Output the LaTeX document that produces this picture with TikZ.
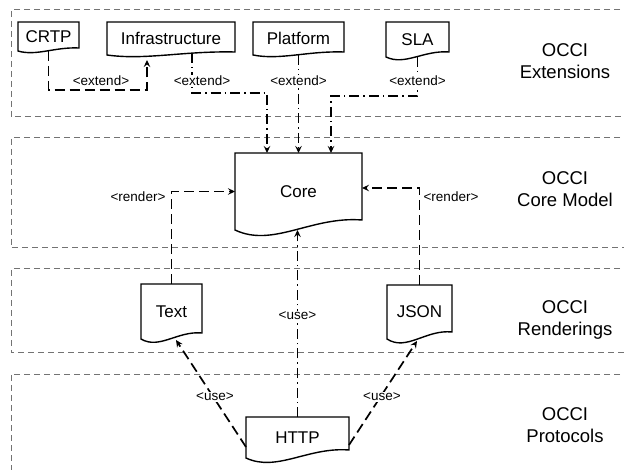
\documentclass[tikz,border=0pt]{standalone}
\usepackage{fontspec}
\setmainfont{Liberation Sans}
\usetikzlibrary{arrows.meta,calc}
\tikzset{
  layer/.style={draw=black!55, line width=1pt, dash pattern=on 6pt off 4pt},
  docnode/.style={draw=none, inner sep=0pt, outer sep=0pt, anchor=north west, font=\fontsize{17}{20}\selectfont},
  docline/.style={draw=black, line width=1.4pt, line join=miter},
  conn/.style={line width=1.7pt, dash pattern=on 10pt off 5pt, -{Stealth[length=7pt,width=6.5pt,inset=2.5pt]}},
  conndot/.style={conn, dash pattern=on 10pt off 4pt on 1.5pt off 4pt},
  lbl/.style={fill=white, inner sep=1pt, font=\fontsize{13.5}{15}\selectfont},
  layertitle/.style={align=center, font=\fontsize{18.5}{22}\selectfont},
}
\newcommand{\docoutline}[2]{%
  \draw[docline] (#1.south west) -- (#1.north west) -- (#1.north east) -- ($(#1.south east)+(0,#2)$)
   .. controls ($(#1.south west)!0.6!(#1.south east)+(0,1.4*#2)$) and ($(#1.south west)!0.3!(#1.south east)+(0,-1.8*#2)$) .. (#1.south west) -- cycle;}
\begin{document}
\begin{tikzpicture}[x=1pt,y=1pt]
\useasboundingbox (0,0) rectangle (624,-470);
% layers
\draw[layer] (640,-10) -- (11,-10) -- (11,-117) -- (640,-117);
\draw[layer] (640,-138) -- (11,-138) -- (11,-248) -- (640,-248);
\draw[layer] (640,-269) -- (11,-269) -- (11,-353) -- (640,-353);
\draw[layer] (640,-374) -- (11,-374) -- (11,-480);
% documents
\node[docnode, minimum width=61pt, minimum height=29pt] (crtp) at (18,-22) {CRTP};
\node[docnode, minimum width=128pt, minimum height=33pt] (infra) at (107,-22) {Infrastructure};
\node[docnode, minimum width=91pt, minimum height=33pt] (platform) at (253,-22) {Platform};
\node[docnode, minimum width=63pt, minimum height=35pt] (sla) at (386,-22) {SLA};
\node[docnode, minimum width=127pt, minimum height=77pt] (core) at (235,-153) {Core};
\node[docnode, minimum width=61pt, minimum height=55pt] (text) at (141,-284) {Text};
\node[docnode, minimum width=65pt, minimum height=54pt] (json) at (387,-285) {JSON};
\node[docnode, minimum width=103pt, minimum height=41pt] (http) at (246,-417) {HTTP};
\docoutline{crtp}{3}
\docoutline{infra}{3}
\docoutline{platform}{3}
\docoutline{sla}{5}
\docoutline{core}{10}
\docoutline{text}{6}
\docoutline{json}{7}
\docoutline{http}{8}
% connectors
\draw[conn] (crtp.south) -- ++(0,-39) -| ($(infra.south west)+(40,-5)$);
\draw[conndot] ($(infra.south west)+(85,2)$) -- ++(0,-40) -| ($(core.north west)+(32,0)$);
\draw[conndot] (platform.south) -- (platform.south |- core.north);
\draw[conndot] (sla.south) -- ++(0,-39) -| ($(core.north east)+(-31,0)$);
\draw[conn] (text.north) |- (core.west);
\draw[conn] (json.north) |- ($(core.east)+(0,3.5)$);
\draw[conndot] (http.north) -- (http.north |- core.south);
\draw[conn] ($(http.south west)+(0,11)$) -- ($(text.south)+(4.5,-1)$);
\draw[conn] ($(http.south east)+(0,13)$) -- ($(json.south)+(-2.5,-2)$);
% labels
\node[lbl] (l1) at (101,-81) {<extend>};
\node[lbl] (l2) at (202,-81) {<extend>};
\node[lbl] (l3) at (298.5,-81) {<extend>};
\node[lbl] (l4) at (417.5,-81) {<extend>};
\node[lbl] (l5) at (138,-197) {<render>};
\node[lbl] (l6) at (451,-197) {<render>};
\node[lbl] (l7) at (297.5,-316) {<use>};
\node[lbl] (l8) at (215,-397) {<use>};
\node[lbl] (l9) at (382,-397) {<use>};
% layer titles
\node[layertitle] (t1) at (565,-61) {OCCI\\Extensions};
\node[layertitle] (t2) at (565,-189.5) {OCCI\\Core Model};
\node[layertitle] (t3) at (565,-319.5) {OCCI\\Renderings};
\node[layertitle] (t4) at (565,-425) {OCCI\\Protocols};
\end{tikzpicture}
\end{document}
